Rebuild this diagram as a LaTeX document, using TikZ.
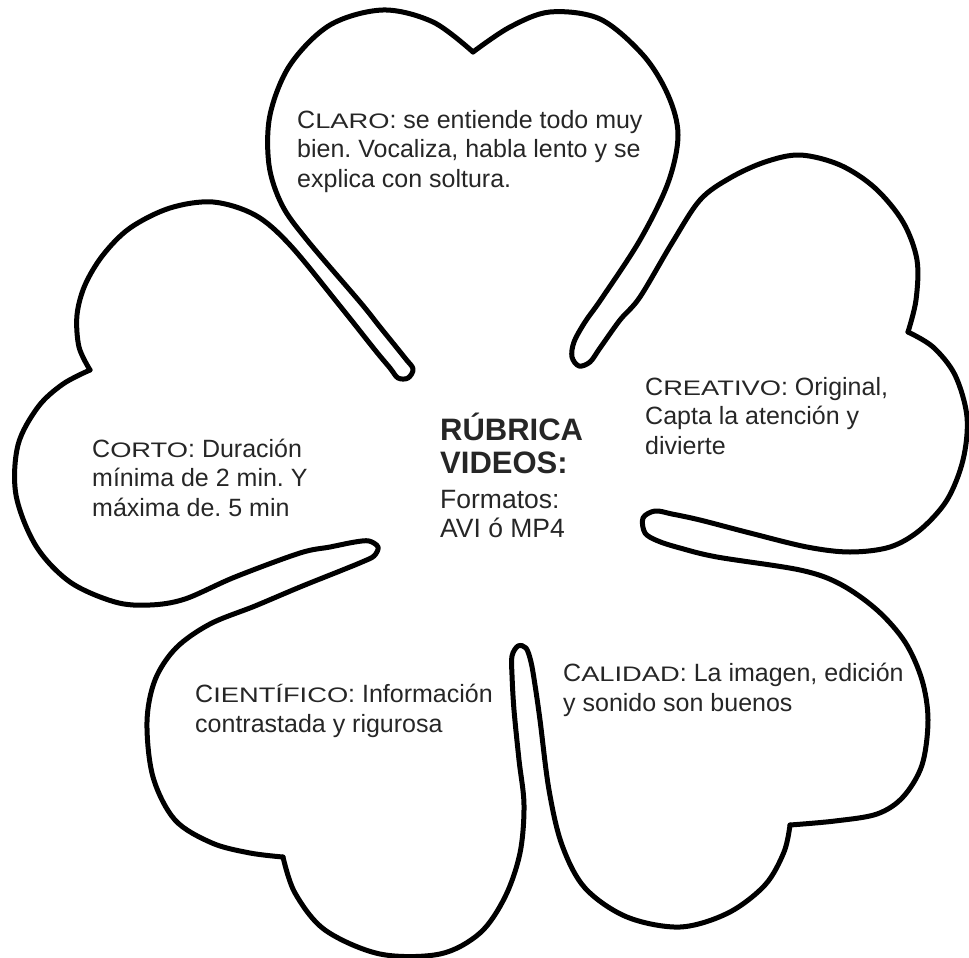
\documentclass[tikz,border=0pt]{standalone}
\usepackage{fontspec}
\setmainfont{Liberation Sans}
\usepackage{graphicx}
\frenchspacing

\newcommand\petalcap[2]{#1{\fontsize{21}{21}\selectfont\scalebox{1.3}[1]{#2}}}

\tikzset{
  petal/.style = {line width=5pt, line cap=round, line join=round},
  petaltext/.style = {anchor=base west, inner sep=0pt, align=left, text=black!85,
                      font=\fontsize{25}{29.5}\selectfont},
}

\begin{document}
\begin{tikzpicture}[x=1pt, y=-1pt]
  \useasboundingbox (0,0) rectangle (969,958);

  % outline, one piece from notch to notch
  \draw[petal] plot[smooth, tension=.55] coordinates {(473,52) (510,27) (550,12) (600,19) (643,55)
    (668,95) (678,135) (668,183) (640,240) (602,298) (585,322) (574,342) (572,357) (579,366)
    (590,362) (600,348) (620,320) (640,297) (672,243) (700,200) (730,178) (765,162) (800,155)
    (840,165) (875,188) (903,222) (917,260) (916,300) (908,332)};
  \draw[petal] plot[smooth, tension=.55] coordinates {(908,332) (933,347) (955,375) (967,417)
    (963,460) (947,500) (920,530) (890,547) (850,552) (807,547) (750,533) (700,520) (672,514)
    (655,511) (643,518) (645,533) (658,541) (680,548) (717,557) (800,570) (840,584) (877,610)
    (905,642) (922,680) (928,720) (922,765) (903,797) (877,814) (835,821) (790,825)};
  \draw[petal] plot[smooth, tension=.55] coordinates {(790,825) (784,852) (765,885) (728,913)
    (680,927) (627,917) (585,888) (562,845) (549,790) (540,720) (535,685) (531,662) (526,648)
    (518,646) (512,656) (512,675) (514,710) (519,760) (524,805) (520,853) (505,897) (480,933)
    (440,954) (380,954) (325,930) (295,893) (283,857)};
  \draw[petal] plot[smooth, tension=.55] coordinates {(283,857) (250,853) (212,843) (175,820)
    (153,777) (147,722) (155,680) (176,648) (210,624) (255,606) (300,587) (340,571) (362,562)
    (374,556) (378,547) (369,541) (355,542) (330,547) (300,553) (235,577) (185,599) (150,605)
    (115,602) (70,582) (36,546) (16,495) (18,445) (38,407) (63,384) (90,370)};
  \draw[petal] plot[smooth, tension=.55] coordinates {(90,370) (79,347) (77,315) (85,285)
    (103,255) (130,228) (170,208) (213,202) (255,215) (290,245) (340,306) (375,350) (390,368)
    (398,378) (408,378) (413,369) (405,358) (380,327) (360,302) (307,240) (282,205) (269,165)
    (270,115) (290,65) (330,25) (383,10) (433,22) (473,52)};

  % texts, anchored at the baseline of their last line
  \node[petaltext] (claro) at (297,187)
    {\petalcap{C}{LARO}: se entiende todo muy\\ bien. Vocaliza, habla lento y se\\ explica con soltura.};
  \node[petaltext] (creativo) at (645,454)
    {\petalcap{C}{REATIVO}: Original,\\ Capta la atención y\\ divierte};
  \node[petaltext] (corto) at (92,516)
    {\petalcap{C}{ORTO}: Duración\\ mínima de 2 min. Y\\ máxima de. 5 min};
  \node[petaltext, font=\bfseries\fontsize{31}{33}\selectfont] (rubrica) at (440,473)
    {RÚBRICA\\ VIDEOS:};
  \node[petaltext, font=\fontsize{26.5}{29}\selectfont] (formatos) at (440,537)
    {Formatos:\\ AVI ó MP4};
  \node[petaltext] (calidad) at (563,711)
    {\petalcap{C}{ALIDAD}: La imagen, edición\\ y sonido son buenos};
  \node[petaltext] (cientifico) at (195,732)
    {\petalcap{C}{IENTÍFICO}: Información\\ contrastada y rigurosa};
\end{tikzpicture}
\end{document}
